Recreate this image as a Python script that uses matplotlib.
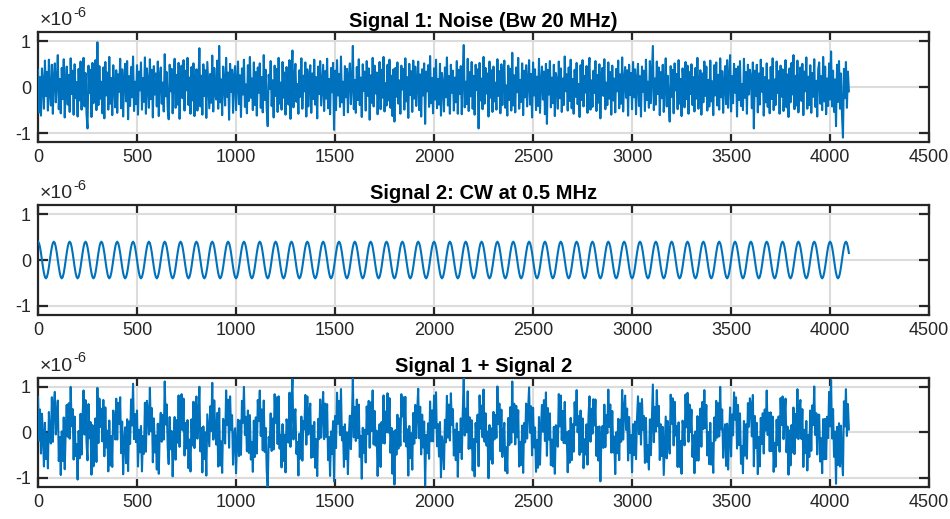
import numpy as np
import matplotlib.pyplot as plt

plt.rcParams['font.family'] = ['Liberation Sans', 'DejaVu Sans']

# traces every 5 samples (values in units of 1e-6)
sample_step = 5
n_samples = 4096

titles = ['Signal 1: Noise (Bw 20 MHz)', 'Signal 2: CW at 0.5 MHz', 'Signal 1 + Signal 2']
x_ticks = [0, 500, 1000, 1500, 2000, 2500, 3000, 3500, 4000, 4500]
y_ticks = [-1, 0, 1]

noise_uv = [
    0.38, -0.55, 0.22, -0.62, 0.41, 0.08, -0.47, 0.58, -0.19, 0.33, -0.51, 0.60, -0.12, -0.40, 0.49, -0.58, 0.21, 0.52, -0.33, 0.15,
    0.70, -0.48, 0.18, -0.57, 0.42, -0.26, 0.61, -0.66, 0.06, 0.45, -0.38, 0.27, -0.54, 0.63, -0.15, 0.36, -0.60, 0.50, -0.24, 0.11,
    -0.64, 0.40, -0.29, 0.56, -0.49, 0.17, 0.64, -0.42, 0.31, -0.59, -0.90, 0.47, -0.13, 0.38, -0.65, 0.53, -0.35, 0.22, 0.59, -0.50,
    0.98, -0.39, 0.46, -0.25, 0.12, -0.57, 0.43, -0.68, 0.55, -0.18, 0.32, -0.49, 0.66, -0.36, 0.20, -0.61, 0.48, 0.05, -0.44, 0.37,
    -0.56, 0.28, -0.10, 0.62, -0.46, 0.39, -0.64, 0.16, 0.51, -0.31, 0.57, -0.70, 0.24, -0.41, 0.44, -0.22, 0.67, -0.52, 0.12, -0.37,
    0.48, -0.60, 0.34, -0.07, 0.54, -0.49, 0.20, -0.32, 0.65, -0.58, 0.41, 0.08, -0.45, 0.61, -0.26, 0.38, -0.66, 0.46, -0.16, 0.30,
    -0.42, 0.56, -0.63, 0.23, 0.43, -0.36, 0.10, -0.53, 0.72, -0.20, 0.33, -0.48, -0.70, 0.49, -0.09, 0.40, -0.57, 0.19, 0.62, -0.45,
    0.27, -0.38, 0.53, -0.69, 0.14, 0.47, -0.24, 0.59, -0.51, 0.36, -0.07, 0.64, -0.39, 0.21, -0.58, 0.44, -0.29, 0.52, -0.63, 0.17,
    0.39, -0.51, 0.09, 0.85, -0.42, 0.25, -0.60, 0.50, -0.19, 0.37, -0.67, 0.55, 0.03, -0.46, 0.29, -0.34, 0.69, -0.53, 0.42, -0.13,
    -0.27, 0.58, -0.47, 0.90, -0.33, 0.17, -0.61, 0.45, 0.11, -0.40, 0.64, -0.21, 0.32, -0.71, 0.51, -0.10, 0.38, -0.56, 0.23, 0.46,
    -0.50, 0.13, 0.56, -0.37, 0.26, -0.65, 0.41, -0.16, 0.60, -0.43, 0.06, -0.57, 0.48, -0.30, 0.66, -0.23, 0.19, -0.50, 0.54, -0.39,
    0.33, -0.62, 0.43, -0.12, 0.52, -0.45, 0.22, -0.55, 0.70, -0.28, 0.38, -0.48, -0.85, 0.27, -0.04, 0.57, -0.41, 0.15, -0.66, 0.47,
    -0.19, 0.40, -0.54, 0.64, -0.36, 0.10, -0.49, 0.55, -0.23, 0.32, -0.60, 0.44, 0.16, -0.38, 0.59, -0.69, 0.28, 0.80, -0.44, 0.21,
    0.51, -0.32, 0.07, -0.58, 0.37, -0.21, 0.63, -0.47, 0.25, -0.09, 0.54, -0.64, 0.39, -0.42, 0.13, 0.48, -0.56, 0.30, -0.26, 0.60,
    -0.38, 0.22, -0.68, 0.45, -0.15, 0.57, -0.40, 0.05, 0.49, -0.52, 0.35, -0.25, 0.62, -0.46, 0.18, -0.59, 0.42, -0.11, 0.53, -0.93,
    0.36, -0.50, 0.59, -0.18, 0.29, -0.43, 0.67, -0.33, 0.12, -0.61, 0.46, -0.22, 0.40, -0.55, 0.24, 0.52, -0.37, 0.06, 0.90, -0.48,
    0.16, -0.56, 0.44, -0.28, 0.61, -0.39, 0.21, -0.65, 0.50, -0.08, 0.34, -0.51, 0.57, -0.19, 0.41, -0.71, 0.26, -0.34, 0.64, -0.42,
    0.47, -0.14, 0.32, -0.59, 0.19, 0.55, -0.48, 0.38, -0.23, 0.66, -0.53, 0.09, -0.40, 0.49, -0.29, 0.60, -0.45, 0.25, -0.63, 0.39,
    -0.75, 0.42, -0.21, 0.54, -0.36, 0.15, -0.58, 0.47, -0.05, 0.40, -0.49, 0.63, -0.31, 0.22, -0.67, 0.51, -0.17, 0.35, -0.54, 0.58,
    -0.25, 0.45, -0.41, 0.11, 0.56, -0.50, 0.28, -0.64, 0.39, -0.18, 0.52, -0.80, 0.34, -0.09, 0.48, -0.43, 0.68, -0.35, 0.20, -0.57,
    0.41, -0.27, 0.60, -0.46, 0.18, -0.38, 0.51, -0.62, 0.31, 0.07, -0.53, 0.43, -0.22, 0.65, -0.40, 0.24, -0.58, 0.49, -0.12, 0.36,
    -0.51, 0.21, -0.33, 0.57, -0.58, 0.38, -0.15, 0.46, -0.59, 0.28, 0.92, -0.44, 0.12, -0.37, 0.62, -0.52, 0.33, -0.20, 0.55, -0.47,
    0.25, -0.60, 0.49, -0.06, 0.39, -0.90, 0.53, -0.29, 0.19, -0.48, 0.66, -0.36, 0.42, -0.14, 0.30, -0.64, 0.56, -0.23, 0.37, -0.54,
    0.45, -0.31, 0.10, -0.49, 0.61, -0.19, 0.35, -0.57, 0.50, -0.39, 0.22, 0.58, -0.45, 0.04, -0.62, 0.47, -0.28, 0.40, -0.51, 0.75,
    -0.40, 0.26, -0.55, 0.43, -0.11, 0.64, -0.47, 0.16, -0.32, 0.52, -0.61, 0.36, -0.22, 0.48, -0.42, 0.13, 0.59, -0.38, 0.29, -0.66,
    0.54, -0.18, 0.39, -0.50, 0.23, -0.41, 0.62, -0.56, 0.09, 0.45, -0.27, 0.34, -0.59, 0.51, -0.80, 0.38, -0.16, 0.57, -0.44, 0.21,
    -0.35, 0.49, -0.63, 0.31, 0.13, -0.47, 0.56, -0.24, 0.41, -0.54, 0.19, -0.39, 0.67, -0.09, 0.28, -0.51, 0.43, -0.30, 0.60, -0.46,
    0.18, -0.58, 0.38, -0.21, 0.53, -0.37, 0.07, -0.65, 0.48, -0.28, 0.59, -0.42, 0.25, -0.12, 0.46, -0.56, 0.35, 0.64, -0.49, 0.15,
    -0.43, 0.36, -0.13, 0.57, -0.52, 0.27, -0.34, 0.50, -0.68, 0.22, 0.42, -0.19, 0.61, -0.48, 0.10, -0.39, 0.54, -0.25, 0.33, -0.60,
    0.47, -0.29, 0.19, -0.55, 0.40, -0.09, 0.58, -0.46, 0.28, -0.36, 0.65, -0.53, 0.15, 0.44, -0.23, 0.37, -0.62, 0.49, -0.17, 0.31,
    -0.48, 0.55, -0.22, 0.39, -0.59, 0.16, 0.51, -0.41, 0.24, -0.64, 0.45, -0.10, 0.36, -0.52, 0.60, -0.28, 0.12, -0.45, 0.57, -0.35,
    0.29, 0.90, -0.50, 0.19, -0.38, 0.56, -0.15, 0.43, -0.61, 0.33, -0.24, 0.49, -0.54, 0.08, 0.63, -0.42, 0.25, -0.32, -0.75, 0.46,
    -0.21, 0.38, -0.57, 0.52, -0.07, 0.29, -0.48, 0.59, -0.36, 0.18, -0.63, 0.41, 0.05, -0.44, 0.55, -0.26, 0.47, -0.58, 0.33, -0.15,
    0.50, -0.39, 0.22, -0.53, 0.42, -0.25, 0.64, -0.47, 0.12, 0.37, -0.60, 0.30, -0.33, 0.56, -0.19, 0.45, -0.51, 0.16, -0.42, 0.58,
    -0.31, 0.13, -0.61, 0.48, -0.18, 0.54, -0.40, 0.27, -0.49, 0.63, -0.22, 0.35, -0.56, 0.10, 0.46, -0.37, 0.59, -0.45, 0.20, 0.70,
    -0.53, 0.24, -0.35, 0.51, -0.12, 0.40, -0.64, 0.45, -0.28, 0.57, -0.41, 0.07, -0.50, 0.62, -0.23, 0.33, -0.58, 0.49, -0.16, 0.38,
    0.21, -0.46, 0.54, -0.90, 0.36, -0.19, 0.49, -0.55, 0.30, -0.38, 0.60, -0.10, 0.42, -0.62, 0.22, -0.33, 0.52, -0.43, 0.15, -0.57,
    0.44, -0.26, 0.63, -0.50, 0.17, -0.39, 0.56, -0.13, 0.35, -0.58, 0.47, -0.21, 0.39, -0.52, 0.09, 0.59, -0.44, 0.28, -0.65, 0.41,
    -0.33, 0.53, -0.16, 0.70, -0.48, 0.25, -0.40, 0.58, -0.55, 0.12, 0.43, -0.30, 0.51, -0.61, 0.34, -0.09, 0.65, -0.47, 0.23, -0.39,
    0.48, -0.56, 0.31, -0.21, 0.61, -0.43, 0.14, -0.64, 0.39, 0.54, -0.36, 0.24, -0.50, 0.66, -0.31, 0.45, -0.59, 0.19, -0.41, 0.52,
    -0.27, 0.78, -0.42, 0.36, -0.54, 0.17, -0.85, 0.49, -0.32, 0.57, -0.47, 0.30, -0.60, -1.10, 0.40, -0.24, 0.55, -0.45, 0.34, -0.09,
]

# CW tone, 80 samples per cycle, amplitude ~0.4e-6
cw_uv = [
    0.400, 0.370, 0.283, 0.153, 0.000, -0.153, -0.283, -0.370, -0.400, -0.370, -0.283, -0.153, 0.000, 0.153, 0.283, 0.370,
    0.400, 0.370, 0.283, 0.153, 0.000, -0.153, -0.283, -0.370, -0.400, -0.370, -0.283, -0.153, 0.000, 0.153, 0.283, 0.370,
    0.400, 0.370, 0.283, 0.153, 0.000, -0.153, -0.283, -0.370, -0.400, -0.370, -0.283, -0.153, 0.000, 0.153, 0.283, 0.370,
    0.400, 0.370, 0.283, 0.153, 0.000, -0.153, -0.283, -0.370, -0.400, -0.370, -0.283, -0.153, 0.000, 0.153, 0.283, 0.370,
    0.400, 0.370, 0.283, 0.153, 0.000, -0.153, -0.283, -0.370, -0.400, -0.370, -0.283, -0.153, 0.000, 0.153, 0.283, 0.370,
    0.400, 0.370, 0.283, 0.153, 0.000, -0.153, -0.283, -0.370, -0.400, -0.370, -0.283, -0.153, 0.000, 0.153, 0.283, 0.370,
    0.400, 0.370, 0.283, 0.153, 0.000, -0.153, -0.283, -0.370, -0.400, -0.370, -0.283, -0.153, 0.000, 0.153, 0.283, 0.370,
    0.400, 0.370, 0.283, 0.153, 0.000, -0.153, -0.283, -0.370, -0.400, -0.370, -0.283, -0.153, 0.000, 0.153, 0.283, 0.370,
    0.400, 0.370, 0.283, 0.153, 0.000, -0.153, -0.283, -0.370, -0.400, -0.370, -0.283, -0.153, 0.000, 0.153, 0.283, 0.370,
    0.400, 0.370, 0.283, 0.153, 0.000, -0.153, -0.283, -0.370, -0.400, -0.370, -0.283, -0.153, 0.000, 0.153, 0.283, 0.370,
    0.400, 0.370, 0.283, 0.153, 0.000, -0.153, -0.283, -0.370, -0.400, -0.370, -0.283, -0.153, 0.000, 0.153, 0.283, 0.370,
    0.400, 0.370, 0.283, 0.153, 0.000, -0.153, -0.283, -0.370, -0.400, -0.370, -0.283, -0.153, 0.000, 0.153, 0.283, 0.370,
    0.400, 0.370, 0.283, 0.153, 0.000, -0.153, -0.283, -0.370, -0.400, -0.370, -0.283, -0.153, 0.000, 0.153, 0.283, 0.370,
    0.400, 0.370, 0.283, 0.153, 0.000, -0.153, -0.283, -0.370, -0.400, -0.370, -0.283, -0.153, 0.000, 0.153, 0.283, 0.370,
    0.400, 0.370, 0.283, 0.153, 0.000, -0.153, -0.283, -0.370, -0.400, -0.370, -0.283, -0.153, 0.000, 0.153, 0.283, 0.370,
    0.400, 0.370, 0.283, 0.153, 0.000, -0.153, -0.283, -0.370, -0.400, -0.370, -0.283, -0.153, 0.000, 0.153, 0.283, 0.370,
    0.400, 0.370, 0.283, 0.153, 0.000, -0.153, -0.283, -0.370, -0.400, -0.370, -0.283, -0.153, 0.000, 0.153, 0.283, 0.370,
    0.400, 0.370, 0.283, 0.153, 0.000, -0.153, -0.283, -0.370, -0.400, -0.370, -0.283, -0.153, 0.000, 0.153, 0.283, 0.370,
    0.400, 0.370, 0.283, 0.153, 0.000, -0.153, -0.283, -0.370, -0.400, -0.370, -0.283, -0.153, 0.000, 0.153, 0.283, 0.370,
    0.400, 0.370, 0.283, 0.153, 0.000, -0.153, -0.283, -0.370, -0.400, -0.370, -0.283, -0.153, 0.000, 0.153, 0.283, 0.370,
    0.400, 0.370, 0.283, 0.153, 0.000, -0.153, -0.283, -0.370, -0.400, -0.370, -0.283, -0.153, 0.000, 0.153, 0.283, 0.370,
    0.400, 0.370, 0.283, 0.153, 0.000, -0.153, -0.283, -0.370, -0.400, -0.370, -0.283, -0.153, 0.000, 0.153, 0.283, 0.370,
    0.400, 0.370, 0.283, 0.153, 0.000, -0.153, -0.283, -0.370, -0.400, -0.370, -0.283, -0.153, 0.000, 0.153, 0.283, 0.370,
    0.400, 0.370, 0.283, 0.153, 0.000, -0.153, -0.283, -0.370, -0.400, -0.370, -0.283, -0.153, 0.000, 0.153, 0.283, 0.370,
    0.400, 0.370, 0.283, 0.153, 0.000, -0.153, -0.283, -0.370, -0.400, -0.370, -0.283, -0.153, 0.000, 0.153, 0.283, 0.370,
    0.400, 0.370, 0.283, 0.153, 0.000, -0.153, -0.283, -0.370, -0.400, -0.370, -0.283, -0.153, 0.000, 0.153, 0.283, 0.370,
    0.400, 0.370, 0.283, 0.153, 0.000, -0.153, -0.283, -0.370, -0.400, -0.370, -0.283, -0.153, 0.000, 0.153, 0.283, 0.370,
    0.400, 0.370, 0.283, 0.153, 0.000, -0.153, -0.283, -0.370, -0.400, -0.370, -0.283, -0.153, 0.000, 0.153, 0.283, 0.370,
    0.400, 0.370, 0.283, 0.153, 0.000, -0.153, -0.283, -0.370, -0.400, -0.370, -0.283, -0.153, 0.000, 0.153, 0.283, 0.370,
    0.400, 0.370, 0.283, 0.153, 0.000, -0.153, -0.283, -0.370, -0.400, -0.370, -0.283, -0.153, 0.000, 0.153, 0.283, 0.370,
    0.400, 0.370, 0.283, 0.153, 0.000, -0.153, -0.283, -0.370, -0.400, -0.370, -0.283, -0.153, 0.000, 0.153, 0.283, 0.370,
    0.400, 0.370, 0.283, 0.153, 0.000, -0.153, -0.283, -0.370, -0.400, -0.370, -0.283, -0.153, 0.000, 0.153, 0.283, 0.370,
    0.400, 0.370, 0.283, 0.153, 0.000, -0.153, -0.283, -0.370, -0.400, -0.370, -0.283, -0.153, 0.000, 0.153, 0.283, 0.370,
    0.400, 0.370, 0.283, 0.153, 0.000, -0.153, -0.283, -0.370, -0.400, -0.370, -0.283, -0.153, 0.000, 0.153, 0.283, 0.370,
    0.400, 0.370, 0.283, 0.153, 0.000, -0.153, -0.283, -0.370, -0.400, -0.370, -0.283, -0.153, 0.000, 0.153, 0.283, 0.370,
    0.400, 0.370, 0.283, 0.153, 0.000, -0.153, -0.283, -0.370, -0.400, -0.370, -0.283, -0.153, 0.000, 0.153, 0.283, 0.370,
    0.400, 0.370, 0.283, 0.153, 0.000, -0.153, -0.283, -0.370, -0.400, -0.370, -0.283, -0.153, 0.000, 0.153, 0.283, 0.370,
    0.400, 0.370, 0.283, 0.153, 0.000, -0.153, -0.283, -0.370, -0.400, -0.370, -0.283, -0.153, 0.000, 0.153, 0.283, 0.370,
    0.400, 0.370, 0.283, 0.153, 0.000, -0.153, -0.283, -0.370, -0.400, -0.370, -0.283, -0.153, 0.000, 0.153, 0.283, 0.370,
    0.400, 0.370, 0.283, 0.153, 0.000, -0.153, -0.283, -0.370, -0.400, -0.370, -0.283, -0.153, 0.000, 0.153, 0.283, 0.370,
    0.400, 0.370, 0.283, 0.153, 0.000, -0.153, -0.283, -0.370, -0.400, -0.370, -0.283, -0.153, 0.000, 0.153, 0.283, 0.370,
    0.400, 0.370, 0.283, 0.153, 0.000, -0.153, -0.283, -0.370, -0.400, -0.370, -0.283, -0.153, 0.000, 0.153, 0.283, 0.370,
    0.400, 0.370, 0.283, 0.153, 0.000, -0.153, -0.283, -0.370, -0.400, -0.370, -0.283, -0.153, 0.000, 0.153, 0.283, 0.370,
    0.400, 0.370, 0.283, 0.153, 0.000, -0.153, -0.283, -0.370, -0.400, -0.370, -0.283, -0.153, 0.000, 0.153, 0.283, 0.370,
    0.400, 0.370, 0.283, 0.153, 0.000, -0.153, -0.283, -0.370, -0.400, -0.370, -0.283, -0.153, 0.000, 0.153, 0.283, 0.370,
    0.400, 0.370, 0.283, 0.153, 0.000, -0.153, -0.283, -0.370, -0.400, -0.370, -0.283, -0.153, 0.000, 0.153, 0.283, 0.370,
    0.400, 0.370, 0.283, 0.153, 0.000, -0.153, -0.283, -0.370, -0.400, -0.370, -0.283, -0.153, 0.000, 0.153, 0.283, 0.370,
    0.400, 0.370, 0.283, 0.153, 0.000, -0.153, -0.283, -0.370, -0.400, -0.370, -0.283, -0.153, 0.000, 0.153, 0.283, 0.370,
    0.400, 0.370, 0.283, 0.153, 0.000, -0.153, -0.283, -0.370, -0.400, -0.370, -0.283, -0.153, 0.000, 0.153, 0.283, 0.370,
    0.400, 0.370, 0.283, 0.153, 0.000, -0.153, -0.283, -0.370, -0.400, -0.370, -0.283, -0.153, 0.000, 0.153, 0.283, 0.370,
    0.400, 0.370, 0.283, 0.153, 0.000, -0.153, -0.283, -0.370, -0.400, -0.370, -0.283, -0.153, 0.000, 0.153, 0.283, 0.370,
    0.400, 0.370, 0.283, 0.153,
]

x = np.arange(0, n_samples, sample_step)
noise = np.array(noise_uv)
cw = np.array(cw_uv)
signals = [noise, cw, noise + cw]

line_color = '#0072BD'
axis_color = '#262626'

fig = plt.figure(figsize=(9.5, 5.19), dpi=100)
# axes boxes in figure fractions (left, bottom, width, height)
boxes = [(0.040, 0.726, 0.938, 0.212),
         (0.040, 0.393, 0.938, 0.212),
         (0.040, 0.062, 0.938, 0.210)]

for box, sig, title in zip(boxes, signals, titles):
    ax = fig.add_axes(box)
    ax.plot(x, sig, color=line_color, lw=1.5, zorder=3)
    ax.set_xlim(0, 4500)
    ax.set_ylim(-1.2, 1.2)
    ax.set_xticks(x_ticks)
    ax.set_yticks(y_ticks)
    ax.set_yticklabels([str(v) for v in y_ticks])
    ax.grid(True, color='#dcdcdc', lw=1.5, zorder=0)
    ax.set_axisbelow(True)
    for sp in ax.spines.values():
        sp.set_linewidth(1.6)
        sp.set_color(axis_color)
    ax.tick_params(direction='in', length=7, width=1.6, top=True, right=True,
                   labelsize=13, colors=axis_color, pad=5)
    ax.set_title(title, fontsize=14.5, fontweight='bold', color='black', pad=4)
    # exponent label like the x10^-6 multiplier
    ax.annotate('\u00d710', xy=(0, 1), xycoords='axes fraction', xytext=(1, 2),
                textcoords='offset points', fontsize=14, color=axis_color,
                ha='left', va='bottom')
    ax.annotate('-6', xy=(0, 1), xycoords='axes fraction', xytext=(25.5, 9),
                textcoords='offset points', fontsize=10.5, color=axis_color,
                ha='left', va='bottom')

plt.savefig('out.png', dpi=100)
